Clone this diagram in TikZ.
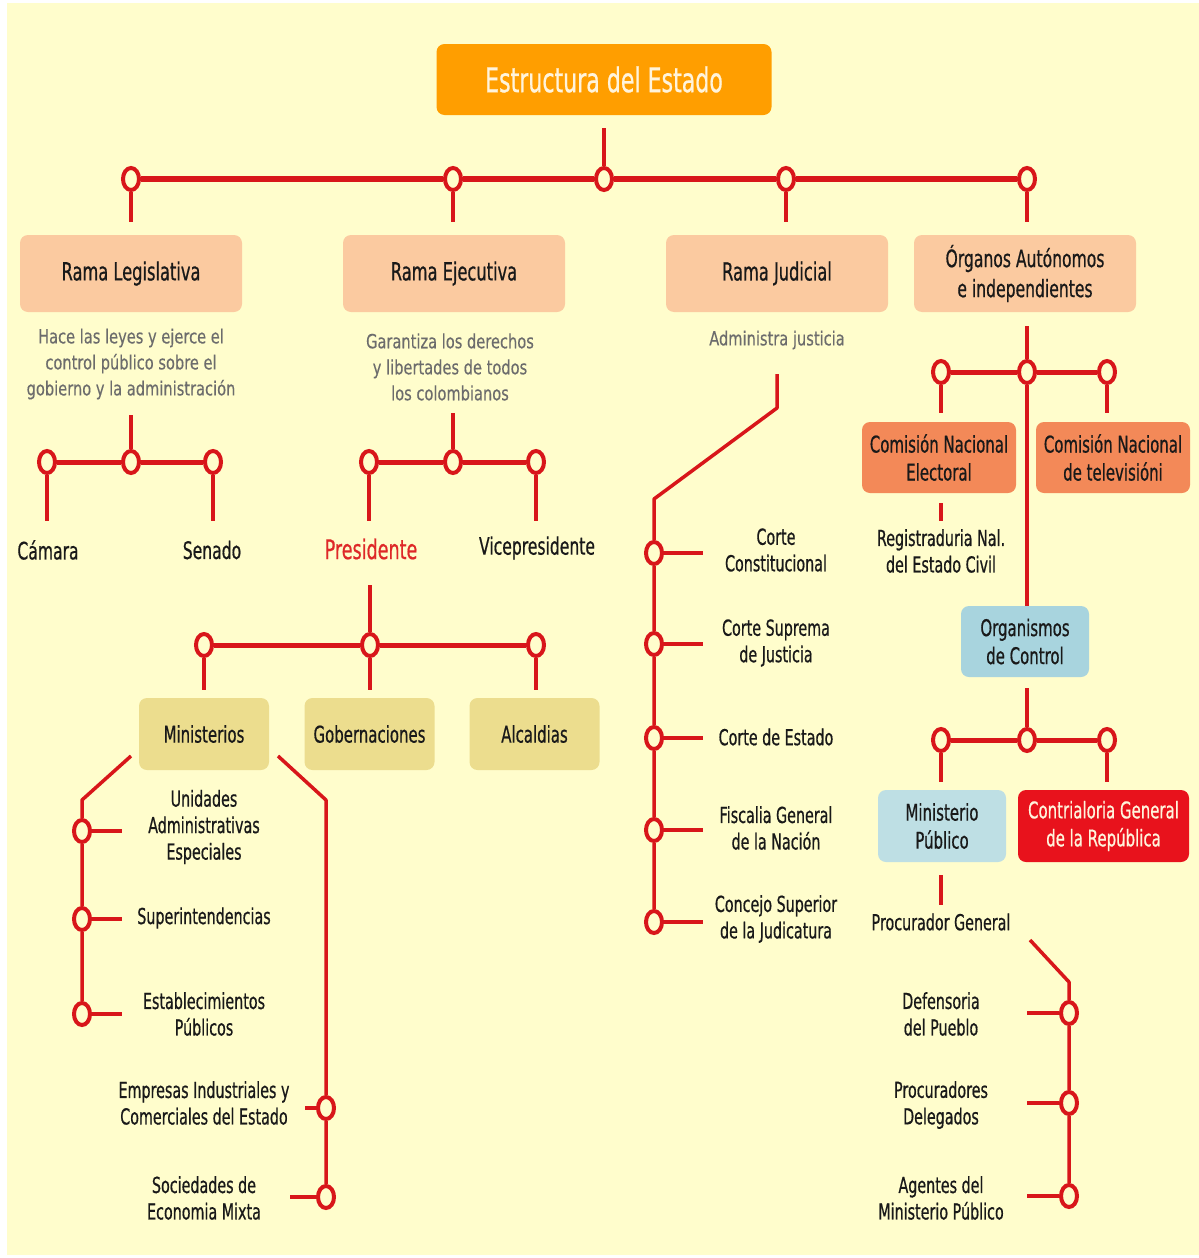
\documentclass[tikz,border=0pt]{standalone}
\usepackage{fontspec}
\setmainfont{DejaVu Sans}[FakeStretch=0.65,FakeBold=0.6]
\newfontfamily\descfont{DejaVu Sans}[FakeStretch=0.75,FakeBold=0.3]
\usetikzlibrary{shapes.geometric}
\definecolor{bgy}{RGB}{255,253,204}
\definecolor{lred}{RGB}{216,22,26}
\definecolor{orng}{RGB}{255,158,0}
\definecolor{peach}{RGB}{251,202,160}
\definecolor{khaki}{RGB}{236,221,142}
\definecolor{coral}{RGB}{243,137,88}
\definecolor{lblue}{RGB}{168,212,222}
\definecolor{pblue}{RGB}{190,223,228}
\definecolor{cred}{RGB}{232,18,28}
\definecolor{txt}{RGB}{25,25,25}
\definecolor{gtxt}{RGB}{108,108,108}
\definecolor{cream}{RGB}{255,244,220}
\definecolor{pres}{RGB}{222,40,40}
\tikzset{
  junc/.style={ellipse, draw=lred, line width=4pt, fill=bgy, minimum width=16pt, minimum height=22pt, inner sep=0pt},
  hline/.style={draw=lred, line width=5pt, line join=round},
  stem/.style={draw=lred, line width=3.5pt, line join=round},
  box/.style={rounded corners=8pt, inner sep=0pt, align=center, text=txt},
  lbl/.style={align=center, text=txt, font=\fontsize{22}{26.5}\selectfont, inner sep=2pt},
  biglbl/.style={align=center, text=txt, font=\fontsize{24}{28}\selectfont, inner sep=2pt},
  desc/.style={align=center, text=gtxt, font=\descfont\fontsize{19.5}{26}\selectfont, inner sep=2pt}
}
\begin{document}
\begin{tikzpicture}[x=1pt,y=-1pt]
\useasboundingbox (0,0) rectangle (1199,1258);
\fill[white] (0,0) rectangle (1199,1258);
\fill[bgy] (7,3) rectangle (1199,1255);

% ---------- title ----------
\node[box, fill=orng, minimum width=335pt, minimum height=71pt, text=cream, font=\fontsize{34}{40}\selectfont] (title) at (604,79.5) {Estructura del Estado};

% ---------- main branches ----------
\node[box, fill=peach, minimum width=222pt, minimum height=77pt, font=\fontsize{25}{30}\selectfont] (legis) at (131,273.5) {Rama Legislativa};
\node[box, fill=peach, minimum width=222pt, minimum height=77pt, font=\fontsize{25}{30}\selectfont] (exec) at (454,273.5) {Rama Ejecutiva};
\node[box, fill=peach, minimum width=222pt, minimum height=77pt, font=\fontsize{25}{30}\selectfont] (jud) at (777,273.5) {Rama Judicial};
\node[box, fill=peach, minimum width=222pt, minimum height=77pt, font=\fontsize{24}{30}\selectfont] (org) at (1025,273.5) {Órganos Autónomos\\e independientes};

\node[junc] (jL) at (131,179) {};
\node[junc] (jE) at (453,179) {};
\node[junc] (j0) at (604,179) {};
\node[junc] (jJ) at (786,179) {};
\node[junc] (jO) at (1027,179) {};

\draw[stem, shorten <=13pt] (title) -- (j0);
\draw[hline, line width=5.5pt] (jL) -- (jE) -- (j0) -- (jJ) -- (jO);
\draw[stem, shorten >=13pt] (jL) -- (legis);
\draw[stem, shorten >=13pt] (jE) -- (jE |- exec.north);
\draw[stem, shorten >=13pt] (jJ) -- (jJ |- jud.north);
\draw[stem, shorten >=13pt] (jO) -- (jO |- org.north);

% ---------- descriptions ----------
\node[desc] (descL) at (131,364) {Hace las leyes y ejerce el\\control público sobre el\\gobierno y la administración};
\node[desc] (descE) at (450,367) {Garantiza los derechos\\y libertades de todos\\los colombianos};
\node[desc] (descJ) at (777,340) {Administra justicia};

% ---------- legislativa ----------
\coordinate (lTop) at (131,415);
\node[junc] (jCam) at (47,462) {};
\node[junc] (jL2) at (131,462) {};
\node[junc] (jSen) at (213,462) {};
\coordinate (camT) at (47,521);
\coordinate (senT) at (213,521);
\node[biglbl] (cam) at (48,550) {Cámara};
\node[biglbl] (sen) at (212,550) {Senado};
\draw[stem] (lTop) -- (jL2);
\draw[hline] (jCam) -- (jL2) -- (jSen);
\draw[stem] (jCam) -- (camT);
\draw[stem] (jSen) -- (senT);

% ---------- ejecutiva ----------
\coordinate (eTop) at (453,413);
\node[junc] (jPres) at (369,462) {};
\node[junc] (jE2) at (453,462) {};
\node[junc] (jVice) at (536,462) {};
\coordinate (presT) at (369,521);
\coordinate (viceT) at (536,521);
\node[align=center, text=pres, font=\fontsize{27}{32}\selectfont, inner sep=2pt] (pres) at (371,549) {Presidente};
\node[biglbl] (vice) at (537,548) {Vicepresidente};
\draw[stem] (eTop) -- (jE2);
\draw[hline] (jPres) -- (jE2) -- (jVice);
\draw[stem] (jPres) -- (presT);
\draw[stem] (jVice) -- (viceT);

\coordinate (pTop) at (370,585);
\node[junc] (jMin) at (204,645) {};
\node[junc] (jP2) at (370,645) {};
\node[junc] (jAlc) at (536,645) {};
\node[box, fill=khaki, minimum width=130pt, minimum height=72pt, font=\fontsize{23}{28}\selectfont] (min) at (204,734) {Ministerios};
\node[box, fill=khaki, minimum width=130pt, minimum height=72pt, font=\fontsize{23}{28}\selectfont] (gob) at (369.5,734) {Gobernaciones};
\node[box, fill=khaki, minimum width=130pt, minimum height=72pt, font=\fontsize{23}{28}\selectfont] (alc) at (534.5,734) {Alcaldias};
\draw[stem] (pTop) -- (jP2);
\draw[hline] (jMin) -- (jP2) -- (jAlc);
\draw[stem, shorten >=8pt] (jMin) -- (min);
\draw[stem, shorten >=8pt] (jP2) -- (jP2 |- gob.north);
\draw[stem, shorten >=8pt] (jAlc) -- (jAlc |- alc.north);

% ministerios left
\coordinate (mL1) at (131,756);
\coordinate (mL2) at (82,800);
\node[junc] (jU) at (82,831) {};
\node[junc] (jS) at (82,919) {};
\node[junc] (jEst) at (82,1014) {};
\coordinate (uS) at (122,831);
\coordinate (sS) at (122,919);
\coordinate (eS) at (122,1014);
\draw[stem] (mL1) -- (mL2) -- (jU) -- (jS) -- (jEst);
\draw[stem] (jU) -- (uS);
\draw[stem] (jS) -- (sS);
\draw[stem] (jEst) -- (eS);
\node[lbl] (uni) at (204,827) {Unidades\\Administrativas\\Especiales};
\node[lbl] (sup) at (204,918) {Superintendencias};
\node[lbl] (est) at (204,1014) {Establecimientos\\Públicos};

% ministerios right
\coordinate (mR1) at (278,756);
\coordinate (mR2) at (326,800);
\node[junc] (jEmp) at (326,1108) {};
\node[junc] (jSoc) at (326,1197) {};
\coordinate (empS) at (305,1108);
\coordinate (socS) at (290,1197);
\draw[stem] (mR1) -- (mR2) -- (jEmp) -- (jSoc);
\draw[stem] (jEmp) -- (empS);
\draw[stem] (jSoc) -- (socS);
\node[lbl] (emp) at (204,1103) {Empresas Industriales y\\Comerciales del Estado};
\node[lbl] (soc) at (204,1198) {Sociedades de\\Economia Mixta};

% ---------- judicial ----------
\coordinate (jdA) at (777,374);
\coordinate (jdB) at (777,408);
\coordinate (jdC) at (654,499);
\node[junc] (jc1) at (654,553) {};
\node[junc] (jc2) at (654,644) {};
\node[junc] (jc3) at (654,738) {};
\node[junc] (jc4) at (654,830) {};
\node[junc] (jc5) at (654,922) {};
\coordinate (s1) at (703,553);
\coordinate (s2) at (703,644);
\coordinate (s3) at (703,738);
\coordinate (s4) at (703,830);
\coordinate (s5) at (703,922);
\draw[stem] (jdA) -- (jdB) -- (jdC) -- (jc1) -- (jc2) -- (jc3) -- (jc4) -- (jc5);
\draw[stem] (jc1) -- (s1);
\draw[stem] (jc2) -- (s2);
\draw[stem] (jc3) -- (s3);
\draw[stem] (jc4) -- (s4);
\draw[stem] (jc5) -- (s5);
\node[lbl] (c1) at (776,550) {Corte\\Constitucional};
\node[lbl] (c2) at (776,643) {Corte Suprema\\de Justicia};
\node[lbl] (c3) at (776,737) {Corte de Estado};
\node[lbl] (c4) at (776,828) {Fiscalia General\\de la Nación};
\node[lbl] (c5) at (776,919) {Concejo Superior\\de la Judicatura};

% ---------- organos ----------
\coordinate (oTop) at (1027,326);
\node[junc] (jCNE) at (941,372) {};
\node[junc] (jO2) at (1027,372) {};
\node[junc] (jTV) at (1107,372) {};
\coordinate (cneT) at (941,413);
\coordinate (tvT) at (1107,413);
\node[box, fill=coral, minimum width=154pt, minimum height=71pt, font=\fontsize{23}{28}\selectfont] (cne) at (939,457.5) {Comisión Nacional\\Electoral};
\node[box, fill=coral, minimum width=154pt, minimum height=71pt, font=\fontsize{23}{28}\selectfont] (tv) at (1113,457.5) {Comisión Nacional\\de televisióni};
\node[box, fill=lblue, minimum width=128pt, minimum height=71pt, font=\fontsize{23}{28}\selectfont] (ctrl) at (1025,641.5) {Organismos\\de Control};
\draw[stem] (oTop) -- (jO2);
\draw[hline] (jCNE) -- (jO2) -- (jTV);
\draw[stem] (jCNE) -- (cneT);
\draw[stem] (jTV) -- (tvT);
\draw[stem] (jO2) -- (jO2 |- ctrl.north);

\coordinate (rA) at (941,503);
\coordinate (rB) at (941,521);
\draw[stem] (rA) -- (rB);
\node[lbl] (reg) at (941,551) {Registraduria Nal.\\del Estado Civil};

\coordinate (cTop) at (1027,688);
\node[junc] (jMP) at (941,740) {};
\node[junc] (jC2) at (1027,740) {};
\node[junc] (jCG) at (1107,740) {};
\coordinate (mpT) at (941,782);
\coordinate (cgT) at (1107,782);
\node[box, fill=pblue, minimum width=128pt, minimum height=72pt, font=\fontsize{23}{28}\selectfont] (mp) at (942,826) {Ministerio\\Público};
\node[box, fill=cred, text=cream, minimum width=171pt, minimum height=72pt, font=\fontsize{23}{28}\selectfont] (cg) at (1103.5,826) {Contrialoria General\\de la República};
\draw[stem] (cTop) -- (jC2);
\draw[hline] (jMP) -- (jC2) -- (jCG);
\draw[stem] (jMP) -- (mpT);
\draw[stem] (jCG) -- (cgT);

\coordinate (pA) at (941,875);
\coordinate (pB) at (941,905);
\draw[stem] (pA) -- (pB);
\node[lbl] (proc) at (941,922) {Procurador General};

\coordinate (dA) at (1030,940);
\coordinate (dB) at (1069,982);
\node[junc] (jDef) at (1069,1013) {};
\node[junc] (jPD) at (1069,1103) {};
\node[junc] (jAg) at (1069,1196) {};
\coordinate (dS) at (1027,1013);
\coordinate (pS) at (1027,1103);
\coordinate (aS) at (1027,1196);
\draw[stem] (dA) -- (dB) -- (jDef) -- (jPD) -- (jAg);
\draw[stem] (jDef) -- (dS);
\draw[stem] (jPD) -- (pS);
\draw[stem] (jAg) -- (aS);
\node[lbl] (def) at (941,1014) {Defensoria\\del Pueblo};
\node[lbl] (pd) at (941,1105) {Procuradores\\Delegados};
\node[lbl] (ag) at (941,1198) {Agentes del\\Ministerio Público};
\end{tikzpicture}
\end{document}
